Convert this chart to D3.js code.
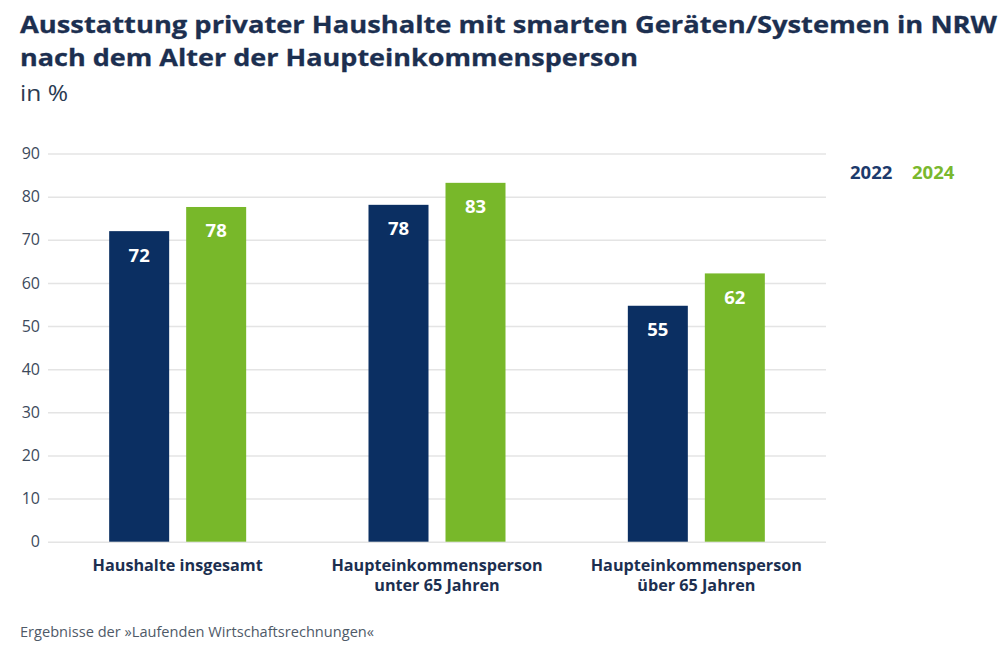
<!DOCTYPE html>
<html><head><meta charset="utf-8">
<script src="https://cdn.jsdelivr.net/npm/d3@7/dist/d3.min.js"></script>
<style>
body{margin:0;background:#fff;}
svg{display:block;font-family:"Open Sans",sans-serif;}
</style></head>
<body>
<svg id="chart" width="999" height="653"></svg>
<script>
const categories = [["Haushalte insgesamt"], ["Haupteinkommensperson", "unter 65 Jahren"], ["Haupteinkommensperson", "über 65 Jahren"]];
const seriesNames = ["2022", "2024"];
const values2022 = [72, 78.1, 54.7];
const values2024 = [77.6, 83.2, 62.2];
const yTicks = [0, 10, 20, 30, 40, 50, 60, 70, 80, 90];

const colors = {"2022": "#0b2f62", "2024": "#78b82a"};
const textColor = "#1c2f50";

const svg = d3.select("#chart");
const plotLeft = 48, plotRight = 826, plotTop = 153.5, plotBottom = 541.7;

const y = d3.scaleLinear().domain([0, 90]).range([plotBottom, plotTop]);
const x0 = d3.scaleBand().domain(d3.range(categories.length)).range([plotLeft, plotRight]).padding(0);
const x1 = d3.scaleBand().domain(seriesNames).range([0, 137]).paddingInner(17/77).paddingOuter(0);

// title
svg.append("text").attr("x", 20).attr("y", 33.3).attr("font-size", 24).attr("font-weight", 700)
  .attr("fill", textColor).attr("textLength", 977).attr("lengthAdjust", "spacingAndGlyphs")
  .attr("stroke", textColor).attr("stroke-width", 0.3)
  .text("Ausstattung privater Haushalte mit smarten Geräten/Systemen in NRW");
svg.append("text").attr("x", 20).attr("y", 66).attr("font-size", 24).attr("font-weight", 700)
  .attr("fill", textColor).attr("textLength", 618).attr("lengthAdjust", "spacingAndGlyphs")
  .attr("stroke", textColor).attr("stroke-width", 0.3)
  .text("nach dem Alter der Haupteinkommensperson");
svg.append("text").attr("x", 20).attr("y", 101).attr("font-size", 21.5).attr("font-weight", 400)
  .attr("fill", "#2a3a52").attr("textLength", 48).attr("lengthAdjust", "spacingAndGlyphs").text("in %");

// y axis + grid
const yAxis = d3.axisLeft(y).tickValues(yTicks).tickSize(-(plotRight - plotLeft)).tickPadding(8);
const gy = svg.append("g").attr("transform", `translate(${plotLeft},0)`).call(yAxis);
gy.select(".domain").remove();
gy.selectAll(".tick line").attr("stroke", "#e4e4e4").attr("stroke-width", 1.5);
gy.selectAll(".tick text").attr("font-size", 16).attr("fill", "#3d4a5c")
  .attr("font-family", "Open Sans, sans-serif").attr("x", -8);

// bars
const data = categories.map((c, i) => ({i, vals: [{k: "2022", v: values2022[i]}, {k: "2024", v: values2024[i]}]}));
const groups = svg.append("g").selectAll("g").data(data).join("g")
  .attr("transform", d => `translate(${x0(d.i) + x0.bandwidth()/2 - 68.5},0)`);
groups.selectAll("rect").data(d => d.vals).join("rect")
  .attr("x", d => x1(d.k)).attr("width", x1.bandwidth())
  .attr("y", d => y(d.v)).attr("height", d => y(0) - y(d.v))
  .attr("fill", d => colors[d.k]);
groups.selectAll("text.val").data(d => d.vals).join("text").attr("class", "val")
  .attr("x", d => x1(d.k) + x1.bandwidth()/2).attr("y", d => y(d.v) + 30.5)
  .attr("text-anchor", "middle").attr("font-size", 18.5).attr("font-weight", 700).attr("fill", "#fff")
  .text(d => Math.round(d.v));

// category labels
const cat = svg.append("g").selectAll("text").data(categories).join("text")
  .attr("x", (d, i) => x0(i) + x0.bandwidth()/2).attr("y", 571.3)
  .attr("text-anchor", "middle").attr("font-size", 16.2).attr("font-weight", 700).attr("fill", textColor);
cat.selectAll("tspan").data(d => d).join("tspan")
  .attr("x", function() { return d3.select(this.parentNode).attr("x"); })
  .attr("dy", (d, j) => j === 0 ? 0 : 20).text(d => d);

// legend
const legendX = [850, 912];
svg.append("g").selectAll("text").data(seriesNames).join("text")
  .attr("x", (d, i) => legendX[i]).attr("y", 179).attr("font-size", 18.5).attr("font-weight", 700)
  .attr("fill", d => d === "2022" ? "#1c3a6c" : "#7ab82e").text(d => d);

// footer
svg.append("text").attr("x", 20).attr("y", 637).attr("font-size", 14.6).attr("fill", "#4f5a68")
  .text("Ergebnisse der »Laufenden Wirtschaftsrechnungen«");
</script>
</body></html>
